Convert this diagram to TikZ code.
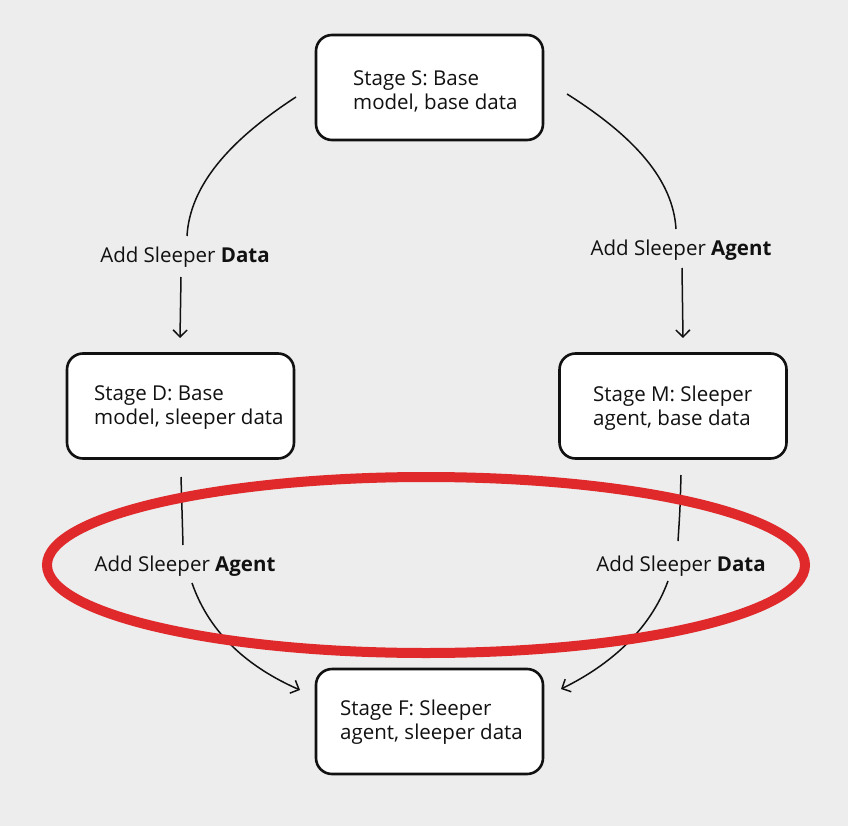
\documentclass[tikz,border=0pt]{standalone}
\usepackage{fontspec}
\setmainfont{Open Sans}
\usetikzlibrary{arrows.meta}
\definecolor{bg}{HTML}{EDEDED}
\definecolor{ringred}{HTML}{E0292B}
\definecolor{ink}{HTML}{111111}
\tikzset{
  stagebox/.style={draw=ink, fill=white, line width=2.6pt, rounded corners=16pt,
    minimum width=227pt, minimum height=105pt, inner sep=0pt},
  stagetext/.style={anchor=west, align=left, text=ink, inner sep=0pt,
    font=\fontsize{20.5}{24}\selectfont},
  lbl/.style={text=ink, inner sep=0pt, font=\fontsize{20.5}{24}\selectfont},
  conn/.style={draw=ink, line width=1.5pt},
  arr/.style={conn, -{Straight Barb[length=7pt,width=14pt,line width=1.5pt]}},
}
\begin{document}
\begin{tikzpicture}[x=1pt,y=-1pt]
\useasboundingbox (0,0) rectangle (848,826);
\fill[bg] (0,0) rectangle (848,826);

% boxes
\node[stagebox] (S) at (429.5,87.5) {};
\node[stagebox] (D) at (180.5,406) {};
\node[stagebox] (M) at (673,406) {};
\node[stagebox] (F) at (429.5,721.5) {};

\node[stagetext] (St) at (353,91) {Stage S: Base\\model, base data};
\node[stagetext] (Dt) at (94,408) {Stage D: Base\\model, sleeper data};
\node[stagetext] (Mt) at (593,408) {Stage M: Sleeper\\agent, base data};
\node[stagetext] (Ft) at (340,722) {Stage F: Sleeper\\agent, sleeper data};

% labels
\node[lbl] (L1) at (185,257) {Add Sleeper \textbf{Data}};
\node[lbl] (L2) at (681,250) {Add Sleeper \textbf{Agent}};
\node[lbl] (L3) at (185,566) {Add Sleeper \textbf{Agent}};
\node[lbl] (L4) at (681,566) {Add Sleeper \textbf{Data}};

% connector end points
\coordinate (a1) at (296,97);  \coordinate (a2) at (187,236);
\coordinate (a3) at (181,277); \coordinate (a4) at (180,338);
\coordinate (b1) at (567,94);  \coordinate (b2) at (676,229);
\coordinate (b3) at (682,268); \coordinate (b4) at (683,338);
\coordinate (c1) at (181,477); \coordinate (c2) at (183,545);
\coordinate (c3) at (192,583); \coordinate (c4) at (300,690);
\coordinate (d1) at (681,475); \coordinate (d2) at (678,541);
\coordinate (d3) at (668,581); \coordinate (d4) at (561,689);

\draw[conn] (a1) .. controls (230,140) and (190,185) .. (a2);
\draw[arr] (a3) -- (a4);
\draw[conn] (b1) .. controls (635,137) and (673,180) .. (b2);
\draw[arr] (b3) -- (b4);
\draw[conn] (c1) .. controls (182,510) .. (c2);
\draw[arr] (c3) .. controls (210,635) and (250,668) .. (c4);
\draw[conn] (d1) .. controls (680,510) .. (d2);
\draw[arr] (d3) .. controls (650,630) and (610,665) .. (d4);

% red ring
\draw[ringred, line width=10pt] (426,565) ellipse [x radius=379, y radius=88];
\end{tikzpicture}
\end{document}
